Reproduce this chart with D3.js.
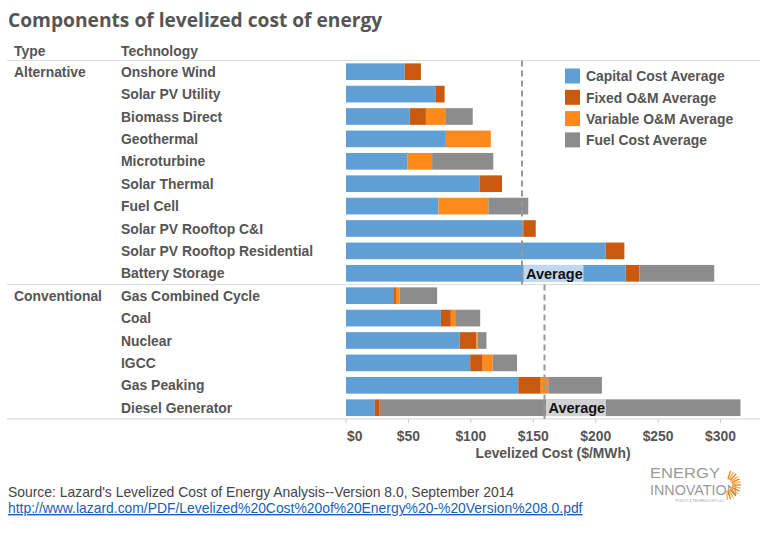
<!DOCTYPE html>
<html><head><meta charset="utf-8">
<script src="https://cdn.jsdelivr.net/npm/d3@7"></script>
<style>body{margin:0;background:#fff;}svg{display:block;}</style>
</head><body><svg id="c" width="768" height="533"></svg>
<script>
const types = ["Alternative","Conventional"];
const technologies = ["Onshore Wind","Solar PV Utility","Biomass Direct","Geothermal","Microturbine","Solar Thermal","Fuel Cell","Solar PV Rooftop C&I","Solar PV Rooftop Residential","Battery Storage","Gas Combined Cycle","Coal","Nuclear","IGCC","Gas Peaking","Diesel Generator"];
const techType = ["Alternative","Alternative","Alternative","Alternative","Alternative","Alternative","Alternative","Alternative","Alternative","Alternative","Conventional","Conventional","Conventional","Conventional","Conventional","Conventional"];
const capitalCost = [47,72,51,80,49,107,74,142,208,224,38.5,76,91,99.5,138,23];
const fixedOM =     [13,7,13,0,0,18,0,10,15,11,1.5,8,13.5,10,18,3.5];
const variableOM =  [0,0,15.5,36,20,0,40,0,0,0,3,3.5,1,8,6,0];
const fuelCost =    [0,0,22,0,49,0,32,0,0,60,30,20,7,19.5,43,289.5];
const seriesNames = ["Capital Cost Average","Fixed O&M Average","Variable O&M Average","Fuel Cost Average"];
const seriesColors = ["#5f9fd6","#c85a10","#ff8a1c","#8c8c8c"];
const typeAverages = [141,159];
const xTicks = [0,50,100,150,200,250,300];

const svg = d3.select("#c");
const grey = "#555";
const FS = 13.9;
const topY = 60.5, step = 22.4;
const y = d3.scaleBand().domain(technologies).range([topY, topY + step*technologies.length]).paddingInner(0.255).paddingOuter(0.1275);
const x = d3.scaleLinear().domain([0,300]).range([346,720.5]);

const rows = technologies.map((t,i)=>({t, type:techType[i], capital:capitalCost[i], fixed:fixedOM[i], variable:variableOM[i], fuel:fuelCost[i]}));
const keys = ["capital","fixed","variable","fuel"];
const stack = d3.stack().keys(keys)(rows);

// title
svg.append("text").attr("x",8).attr("y",27).attr("fill",grey).attr("font-family","'Open Sans', sans-serif").attr("font-weight","bold").attr("font-size",19.2).text("Components of levelized cost of energy");

// headers
const lab = {"font-family":"'Liberation Sans', Arial, sans-serif","font-weight":"bold","font-size":FS,"fill":grey};
function T(sel, attrs){ for(const k in attrs) sel.attr(k, attrs[k]); return sel; }
T(svg.append("text"),lab).attr("x",14).attr("y",56).text("Type");
T(svg.append("text"),lab).attr("x",121).attr("y",56).text("Technology");

// lines
const lineCol = "#dcdcdc";
svg.append("line").attr("x1",7).attr("x2",760).attr("y1",topY).attr("y2",topY).attr("stroke",lineCol).attr("stroke-width",1.2);
const sepY = y("Gas Combined Cycle") - y.step()*y.paddingInner()/2;
svg.append("line").attr("x1",7).attr("x2",760).attr("y1",sepY).attr("y2",sepY).attr("stroke",lineCol).attr("stroke-width",1.2);
const botY = topY + step*technologies.length;
svg.append("line").attr("x1",7).attr("x2",760).attr("y1",botY).attr("y2",botY).attr("stroke",lineCol).attr("stroke-width",1.2);

// row labels
technologies.forEach((t,i)=>{
  T(svg.append("text"),lab).attr("x",121).attr("y",y(t)+y.bandwidth()/2+5).text(t);
});
types.forEach(tp=>{
  const first = technologies[techType.indexOf(tp)];
  T(svg.append("text"),lab).attr("x",14).attr("y",y(first)+y.bandwidth()/2+5).text(tp);
});

// bars
svg.append("g").selectAll("g").data(stack).join("g").attr("fill",(d,i)=>seriesColors[i])
  .selectAll("rect").data(d=>d).join("rect")
  .attr("x",d=>x(d[0])).attr("width",d=>Math.max(0,x(d[1])-x(d[0])))
  .attr("y",d=>y(d.data.t)).attr("height",y.bandwidth());

// average lines
types.forEach((tp,k)=>{
  const idx = techType.map((v,i)=>v===tp?i:-1).filter(i=>i>=0);
  const y0 = k===0 ? topY : sepY;
  const y1 = k===0 ? sepY : botY;
  const ax = x(typeAverages[k]);
  svg.append("line").attr("x1",ax).attr("x2",ax).attr("y1",y0).attr("y2",y1).attr("stroke","#999").attr("stroke-width",2).attr("stroke-dasharray","6,4");
  const last = technologies[idx[idx.length-1]];
  const by = y(last);
  svg.append("rect").attr("x",ax+1.5).attr("y",by).attr("width",60).attr("height",y.bandwidth()).attr("fill","#fff").attr("opacity",0.6);
  svg.append("text").attr("x",ax+4).attr("y",by+y.bandwidth()/2+5.5).attr("font-family","'Liberation Sans', Arial, sans-serif").attr("font-weight","bold").attr("font-size",14.5).attr("fill","#111").text("Average");
});

// legend
seriesNames.forEach((n,i)=>{
  const ly = 68.5 + i*21.3;
  svg.append("rect").attr("x",565).attr("y",ly).attr("width",15).attr("height",15).attr("fill",seriesColors[i]);
  T(svg.append("text"),lab).attr("x",586).attr("y",ly+12.8).text(n);
});

// x axis
const axg = svg.append("g").attr("transform",`translate(0,${botY})`);
axg.selectAll("line").data(xTicks).join("line").attr("x1",d=>x(d)).attr("x2",d=>x(d)).attr("y1",0).attr("y2",4).attr("stroke","#ccc");
axg.selectAll("text").data(xTicks).join("text").attr("x",d=>d===0?x(d)+1:x(d)).attr("y",22).attr("text-anchor",d=>d===0?"start":"middle")
  .attr("font-family","'Liberation Sans', Arial, sans-serif").attr("font-weight","bold").attr("font-size",FS).attr("fill",grey).text(d=>"$"+d);
T(svg.append("text"),lab).attr("x",553).attr("y",458).attr("text-anchor","middle").text("Levelized Cost ($/MWh)");

// source
svg.append("text").attr("x",8).attr("y",497).attr("font-family","'Liberation Sans', Arial, sans-serif").attr("font-size",FS).attr("fill","#444").text("Source: Lazard's Levelized Cost of Energy Analysis--Version 8.0, September 2014");
svg.append("text").attr("x",8).attr("y",513).attr("font-family","'Liberation Sans', Arial, sans-serif").attr("font-size",FS).attr("fill","#1a5fb4").attr("text-decoration","underline").text("http://www.lazard.com/PDF/Levelized%20Cost%20of%20Energy%20-%20Version%208.0.pdf");

// logo
const lg = svg.append("g");
lg.append("text").attr("x",650).attr("y",478).attr("font-family","'Liberation Sans', Arial, sans-serif").attr("font-size",15.5).attr("fill","#9a9a9a").attr("textLength",70).attr("lengthAdjust","spacingAndGlyphs").text("ENERGY");
lg.append("text").attr("x",650).attr("y",495).attr("font-family","'Liberation Sans', Arial, sans-serif").attr("font-size",15.5).attr("fill","#9a9a9a").attr("textLength",87).attr("lengthAdjust","spacingAndGlyphs").text("INNOVATION");
lg.append("text").attr("x",700).attr("y",501.5).attr("text-anchor","middle").attr("font-family","'Liberation Sans', Arial, sans-serif").attr("font-size",3.5).attr("fill","#999").text("POLICY & TECHNOLOGY LLC");
const cx = 726, cy = 485;
d3.range(-72, 85, 12).forEach(a=>{
  const r = a*Math.PI/180;
  lg.append("line").attr("x1",cx+6*Math.cos(r)).attr("y1",cy+6*Math.sin(r)).attr("x2",cx+15*Math.cos(r)).attr("y2",cy+15*Math.sin(r)).attr("stroke",(a/12)%2? "#f3b04a":"#e8801e").attr("stroke-width",1.3);
});
</script></body></html>
